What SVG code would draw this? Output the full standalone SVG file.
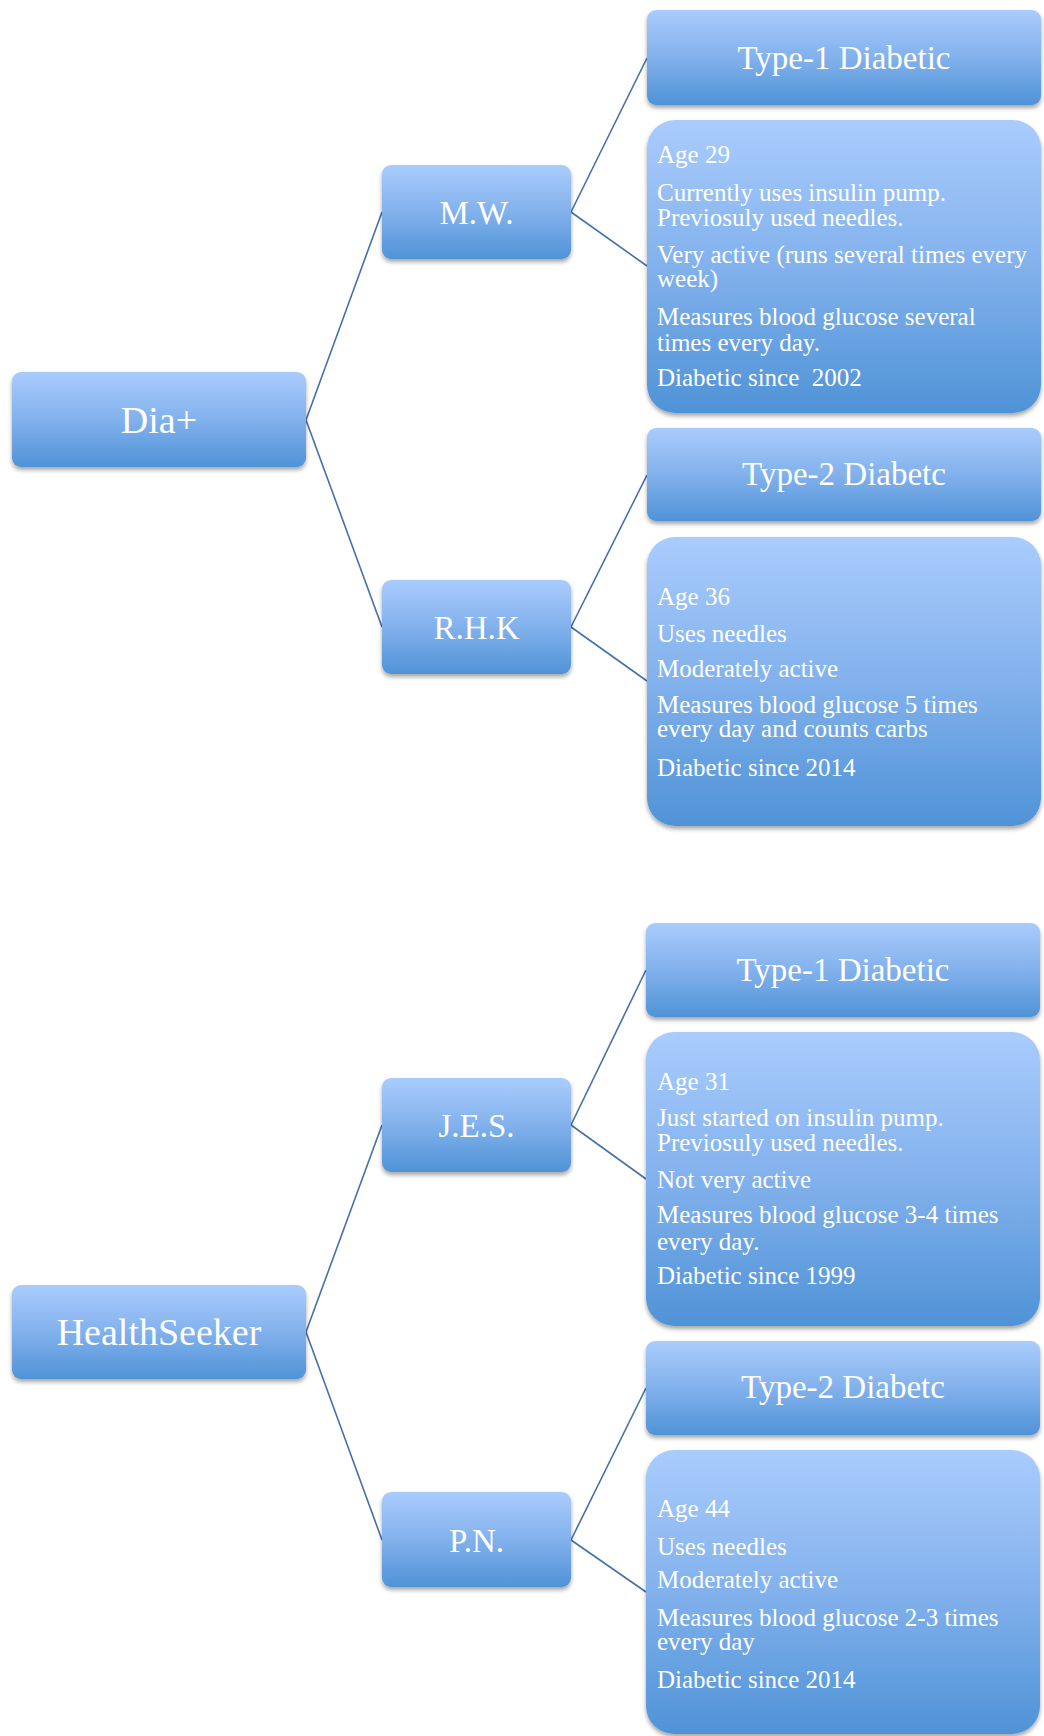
<svg xmlns="http://www.w3.org/2000/svg" width="1044" height="1736" viewBox="0 0 1044 1736">
  <defs>
    <linearGradient id="boxFill" x1="0" y1="0" x2="0" y2="1">
      <stop offset="0" stop-color="#AACCFD"/>
      <stop offset="0.5" stop-color="#82B1EC"/>
      <stop offset="1" stop-color="#4F93D7"/>
    </linearGradient>
    <filter id="shadow" x="-5%" y="-10%" width="110%" height="125%">
      <feDropShadow dx="0" dy="3" stdDeviation="2" flood-color="#000" flood-opacity="0.35"/>
    </filter>
  </defs>
  <style>
    .box { fill: url(#boxFill); filter: url(#shadow); }
    .root { font-family: "Liberation Serif", serif; font-size: 38px; fill: #fff; text-anchor: middle; }
    .mid { font-family: "Liberation Serif", serif; font-size: 33px; fill: #fff; text-anchor: middle; }
    .type { font-family: "Liberation Serif", serif; font-size: 33px; fill: #fff; text-anchor: middle; }
    .info { font-family: "Liberation Serif", serif; font-size: 25px; fill: #fff; white-space: pre; }
    .link { stroke: #4570A8; stroke-width: 1.6; fill: none; }
  </style>
  <rect width="1044" height="1736" fill="#fff"/>

  <g id="connectors">
    <line class="link" x1="306" y1="420" x2="382" y2="212"/>
    <line class="link" x1="306" y1="420" x2="382" y2="627"/>
    <line class="link" x1="571" y1="212" x2="647" y2="58"/>
    <line class="link" x1="571" y1="212" x2="647" y2="266"/>
    <line class="link" x1="571" y1="627" x2="647" y2="475"/>
    <line class="link" x1="571" y1="627" x2="647" y2="681"/>
    <line class="link" x1="306" y1="1332" x2="382" y2="1125"/>
    <line class="link" x1="306" y1="1332" x2="382" y2="1540"/>
    <line class="link" x1="571" y1="1125" x2="646" y2="970"/>
    <line class="link" x1="571" y1="1125" x2="646" y2="1179"/>
    <line class="link" x1="571" y1="1540" x2="646" y2="1388"/>
    <line class="link" x1="571" y1="1540" x2="646" y2="1592"/>
  </g>

  <!-- Dia+ tree -->
  <g id="dia-plus">
    <rect class="box" x="12" y="372" width="294" height="95" rx="9"/>
    <text class="root" x="159" y="433">Dia+</text>
  </g>
  <g id="mw">
    <rect class="box" x="382" y="165" width="189" height="94" rx="9"/>
    <text class="mid" x="476.5" y="224">M.W.</text>
  </g>
  <g id="rhk">
    <rect class="box" x="382" y="580" width="189" height="94" rx="9"/>
    <text class="mid" x="476.5" y="639">R.H.K</text>
  </g>
  <g id="mw-type">
    <rect class="box" x="647" y="10" width="394" height="95" rx="9"/>
    <text class="type" x="844" y="69">Type-1 Diabetic</text>
  </g>
  <g id="mw-details">
    <rect class="box" x="647" y="120" width="394" height="293" rx="28"/>
    <text class="info" x="657" y="163">Age 29</text>
    <text class="info" x="657" y="201">Currently uses insulin pump.</text>
    <text class="info" x="657" y="226">Previosuly used needles.</text>
    <text class="info" x="657" y="263">Very active (runs several times every</text>
    <text class="info" x="657" y="287">week)</text>
    <text class="info" x="657" y="325">Measures blood glucose several</text>
    <text class="info" x="657" y="351">times every day.</text>
    <text class="info" x="657" y="386">Diabetic since  2002</text>
  </g>
  <g id="rhk-type">
    <rect class="box" x="647" y="428" width="394" height="93" rx="9"/>
    <text class="type" x="844" y="485">Type-2 Diabetc</text>
  </g>
  <g id="rhk-details">
    <rect class="box" x="647" y="537" width="394" height="289" rx="28"/>
    <text class="info" x="657" y="605">Age 36</text>
    <text class="info" x="657" y="642">Uses needles</text>
    <text class="info" x="657" y="677">Moderately active</text>
    <text class="info" x="657" y="713">Measures blood glucose 5 times</text>
    <text class="info" x="657" y="737">every day and counts carbs</text>
    <text class="info" x="657" y="776">Diabetic since 2014</text>
  </g>

  <!-- HealthSeeker tree -->
  <g id="healthseeker">
    <rect class="box" x="12" y="1285" width="294" height="94" rx="9"/>
    <text class="root" x="159" y="1345">HealthSeeker</text>
  </g>
  <g id="jes">
    <rect class="box" x="382" y="1078" width="189" height="94" rx="9"/>
    <text class="mid" x="476.5" y="1137">J.E.S.</text>
  </g>
  <g id="pn">
    <rect class="box" x="382" y="1492" width="189" height="95" rx="9"/>
    <text class="mid" x="476.5" y="1552">P.N.</text>
  </g>
  <g id="jes-type">
    <rect class="box" x="646" y="923" width="394" height="94" rx="9"/>
    <text class="type" x="843" y="981">Type-1 Diabetic</text>
  </g>
  <g id="jes-details">
    <rect class="box" x="646" y="1032" width="394" height="294" rx="28"/>
    <text class="info" x="657" y="1090">Age 31</text>
    <text class="info" x="657" y="1126">Just started on insulin pump.</text>
    <text class="info" x="657" y="1151">Previosuly used needles.</text>
    <text class="info" x="657" y="1188">Not very active</text>
    <text class="info" x="657" y="1223">Measures blood glucose 3-4 times</text>
    <text class="info" x="657" y="1250">every day.</text>
    <text class="info" x="657" y="1284">Diabetic since 1999</text>
  </g>
  <g id="pn-type">
    <rect class="box" x="646" y="1341" width="394" height="94" rx="9"/>
    <text class="type" x="843" y="1398">Type-2 Diabetc</text>
  </g>
  <g id="pn-details">
    <rect class="box" x="646" y="1450" width="394" height="284" rx="28"/>
    <text class="info" x="657" y="1517">Age 44</text>
    <text class="info" x="657" y="1555">Uses needles</text>
    <text class="info" x="657" y="1588">Moderately active</text>
    <text class="info" x="657" y="1626">Measures blood glucose 2-3 times</text>
    <text class="info" x="657" y="1650">every day</text>
    <text class="info" x="657" y="1688">Diabetic since 2014</text>
  </g>
</svg>
